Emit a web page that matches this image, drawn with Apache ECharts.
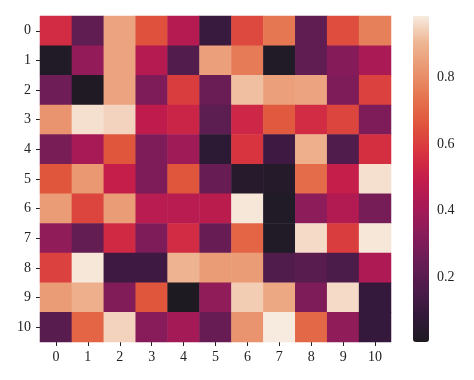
<!DOCTYPE html>
<html><head><meta charset="utf-8">
<script src="https://cdn.jsdelivr.net/npm/echarts@6/dist/echarts.min.js"></script>
<style>html,body{margin:0;padding:0;background:#fff}#c{width:474px;height:380px}</style>
</head><body><div id="c"></div>
<script>
const colLabels = ['0','1','2','3','4','5','6','7','8','9','10'];
const rowLabels = ['0','1','2','3','4','5','6','7','8','9','10'];
const row0  = [0.55, 0.22, 0.86, 0.65, 0.45, 0.10, 0.63, 0.75, 0.22, 0.64, 0.77];
const row1  = [0.02, 0.36, 0.86, 0.45, 0.18, 0.85, 0.76, 0.02, 0.22, 0.32, 0.42];
const row2  = [0.26, 0.01, 0.86, 0.30, 0.60, 0.25, 0.92, 0.85, 0.86, 0.30, 0.61];
const row3  = [0.82, 0.97, 0.95, 0.48, 0.52, 0.21, 0.53, 0.67, 0.55, 0.62, 0.30];
const row4  = [0.29, 0.41, 0.66, 0.30, 0.39, 0.06, 0.58, 0.12, 0.89, 0.17, 0.56];
const row5  = [0.66, 0.83, 0.50, 0.30, 0.66, 0.24, 0.04, 0.03, 0.72, 0.50, 0.97];
const row6  = [0.84, 0.62, 0.84, 0.46, 0.46, 0.47, 0.98, 0.02, 0.34, 0.44, 0.28];
const row7  = [0.35, 0.23, 0.54, 0.30, 0.55, 0.24, 0.70, 0.02, 0.96, 0.60, 0.98];
const row8  = [0.61, 0.98, 0.12, 0.12, 0.90, 0.84, 0.84, 0.17, 0.20, 0.16, 0.43];
const row9  = [0.84, 0.89, 0.31, 0.66, 0.004, 0.35, 0.94, 0.87, 0.30, 0.96, 0.09];
const row10 = [0.20, 0.70, 0.95, 0.33, 0.40, 0.24, 0.82, 0.986, 0.71, 0.35, 0.09];
const rows = [row0,row1,row2,row3,row4,row5,row6,row7,row8,row9,row10];
const colorbarTicks = [0.2, 0.4, 0.6, 0.8];

const data = [];
rows.forEach((r, i) => r.forEach((v, j) => data.push([j, i, v])));
const flat = rows.flat();
const vmin = Math.min(...flat), vmax = Math.max(...flat);

const rocket = ['#1d1a22','#33193b','#4e1c4b','#6a1d55','#891c5a','#a81a56','#c41d4b','#d8333f','#e0553d','#e5744f','#e9956f','#eeb592','#f7ebdf'];
const font = '"Liberation Serif", "DejaVu Serif", serif';

const chart = echarts.init(document.getElementById('c'), null, {renderer:'canvas'});
chart.setOption({
  animation: false,
  backgroundColor: '#fff',
  grid: [
    {left: 40, top: 16, width: 351, height: 326},
    {left: 413, top: 16, width: 16, height: 326}
  ],
  xAxis: [
    {type: 'category', data: colLabels, gridIndex: 0,
     axisLine: {show: false}, splitLine: {show: false},
     axisTick: {show: true, alignWithLabel: true, length: 4, lineStyle: {color: '#222'}},
     axisLabel: {fontFamily: font, fontSize: 14, color: '#222', margin: 8}},
    {type: 'value', gridIndex: 1, show: false, min: 0, max: 1}
  ],
  yAxis: [
    {type: 'category', data: rowLabels, inverse: true, gridIndex: 0,
     axisLine: {show: false}, splitLine: {show: false},
     axisTick: {show: true, alignWithLabel: true, length: 4, lineStyle: {color: '#222'}},
     axisLabel: {fontFamily: font, fontSize: 14, color: '#222', margin: 9}},
    {type: 'value', gridIndex: 1, position: 'right', min: vmin, max: vmax,
     axisLine: {show: false}, splitLine: {show: false},
     axisTick: {show: true, length: 4, lineStyle: {color: '#222'}, customValues: colorbarTicks},
     axisLabel: {fontFamily: font, fontSize: 14, color: '#222', margin: 8, customValues: colorbarTicks,
                 formatter: v => v.toFixed(1)}}
  ],
  visualMap: {
    type: 'continuous', min: vmin, max: vmax, seriesIndex: 0,
    calculable: false, show: true, orient: 'vertical',
    left: 413, top: 16, itemWidth: 16, itemHeight: 326, padding: 0,
    text: null, showLabel: false,
    textStyle: {color: 'rgba(0,0,0,0)'},
    inRange: {color: rocket}
  },
  series: [
    {type: 'heatmap', xAxisIndex: 0, yAxisIndex: 0, data: data,
     itemStyle: {borderWidth: 0}, emphasis: {disabled: true}},
    {type: 'line', xAxisIndex: 1, yAxisIndex: 1, data: [], silent: true}
  ]
});
</script></body></html>
